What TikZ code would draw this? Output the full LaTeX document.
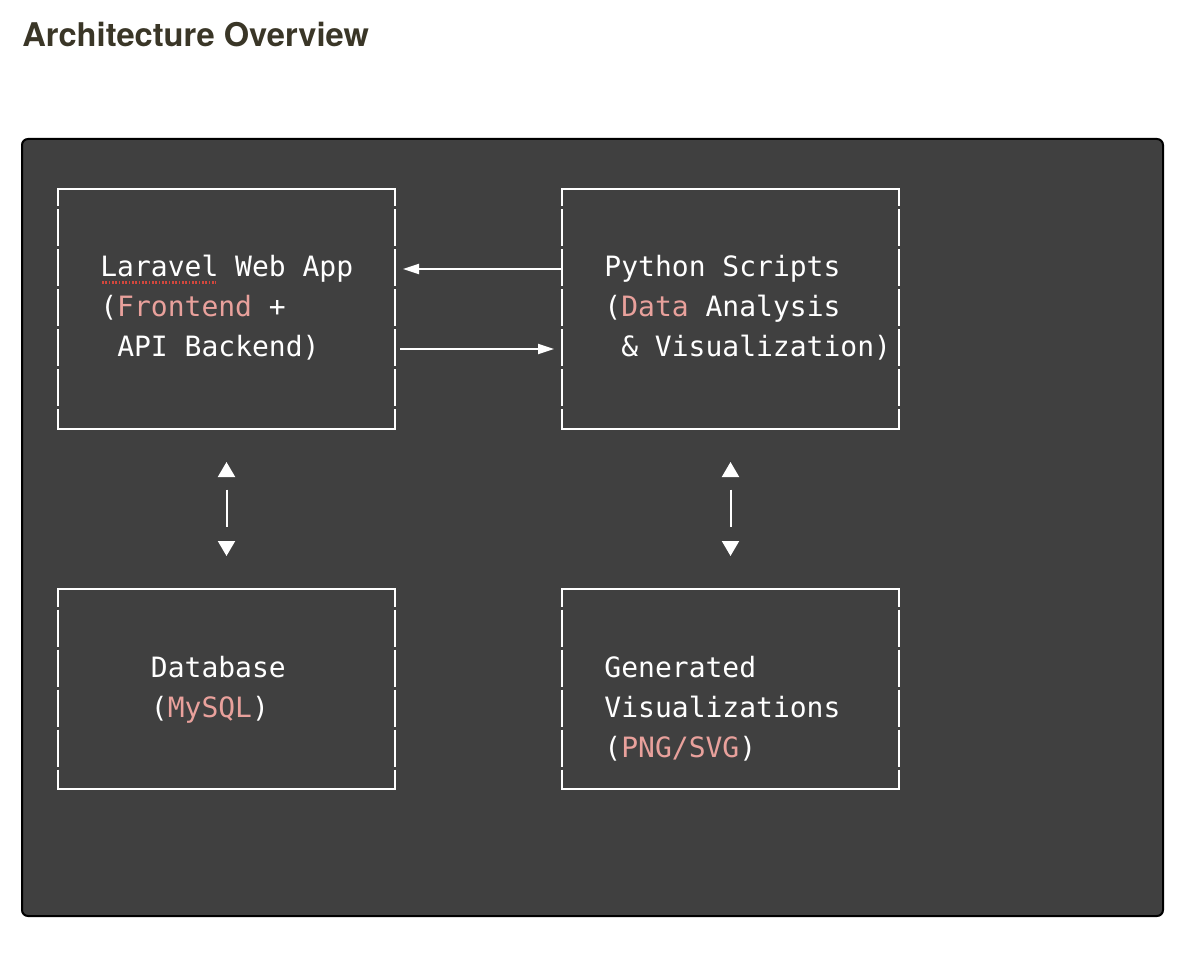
\documentclass[tikz,border=0pt]{standalone}
\usepackage{fontspec}
\setmainfont{TeX Gyre Heros}
\setmonofont{DejaVu Sans Mono}
\usetikzlibrary{arrows.meta}
\definecolor{panelgray}{HTML}{404040}
\definecolor{titleink}{HTML}{3A3627}
\definecolor{hilite}{HTML}{E9A19C}
\definecolor{spellred}{HTML}{D2473D}
\newcommand{\hl}[1]{\textcolor{hilite}{#1}}
\tikzset{
  title/.style={anchor=base west, inner sep=0pt, text=titleink,
    font=\bfseries\fontsize{24.5}{28}\selectfont},
  panel/.style={fill=panelgray, draw=black, line width=1.5pt, rounded corners=4.5pt},
  box/.style={draw=none, inner sep=0pt, outer sep=0pt, minimum width=252.75pt},
  hside/.style={white, line width=1.5pt},
  vside/.style={white, line width=1.5pt, dash pattern=on 27.75pt off 2.25pt, dash phase=14.625pt},
  code/.style={anchor=base west, inner sep=0pt, text=white,
    font=\ttfamily\fontsize{21}{30}\selectfont},
  flow/.style={white, line width=1.5pt, -{Triangle[length=12pt,width=7.5pt]}},
  updown/.style={white, line width=1.5pt, shorten <=24.75pt, shorten >=24.75pt,
    {Triangle[length=11.25pt,width=12.75pt]}-{Triangle[length=11.25pt,width=12.75pt]},
    dash pattern=on 0pt off 9.75pt on 27.75pt off 60pt},
  spell/.style={spellred, line width=1.8pt, dash pattern=on 1.3pt off 1.2pt}
}
\begin{document}
\begin{tikzpicture}[x=0.75pt, y=-0.75pt]
  \useasboundingbox (0,0) rectangle (1192,962);

  \node[title] (heading) at (22,46.5) {Architecture Overview};
  \draw[panel] (22,139) rectangle (1163,916);

  % boxes
  \node[box, minimum height=180pt] (web) at (226.5,309) {};
  \node[box, minimum height=180pt] (py)  at (730.5,309) {};
  \node[box, minimum height=150pt] (db)  at (226.5,689) {};
  \node[box, minimum height=150pt] (vis) at (730.5,689) {};
  \foreach \b in {web,py,db,vis} {
    \draw[hside] ([xshift=-0.75pt]\b.north west) -- ([xshift=0.75pt]\b.north east);
    \draw[hside] ([xshift=-0.75pt]\b.south west) -- ([xshift=0.75pt]\b.south east);
    \draw[vside] (\b.north west) -- (\b.south west);
    \draw[vside] (\b.north east) -- (\b.south east);
  }

  % texts
  \node[code] (web1) at (100.1,277) {Laravel Web App};
  \node[code] (web2) at (100.1,317) {(\hl{Frontend} +};
  \node[code] (web3) at (117,357)   {API Backend)};
  \draw[spell] (102,282.5) -- (216,282.5);

  \node[code] (py1) at (604.2,277) {Python Scripts};
  \node[code] (py2) at (604.2,317) {(\hl{Data} Analysis};
  \node[code] (py3) at (621,357)   {\& Visualization)};

  \node[code] (db1) at (150.7,677) {Database};
  \node[code] (db2) at (150.7,717) {(\hl{MySQL})};

  \node[code] (vis1) at (604.2,677) {Generated};
  \node[code] (vis2) at (604.2,717) {Visualizations};
  \node[code] (vis3) at (604.2,757) {(\hl{PNG/SVG})};

  % connectors
  \draw[flow] ([yshift=30pt]py.west) -- ([yshift=30pt,xshift=6pt]web.east);
  \draw[flow] ([yshift=-30pt,xshift=3.75pt]web.east) -- ([yshift=-30pt,xshift=-6pt]py.west);
  \draw[updown] (web.south) -- (db.north);
  \draw[updown] (py.south) -- (vis.north);
\end{tikzpicture}
\end{document}
